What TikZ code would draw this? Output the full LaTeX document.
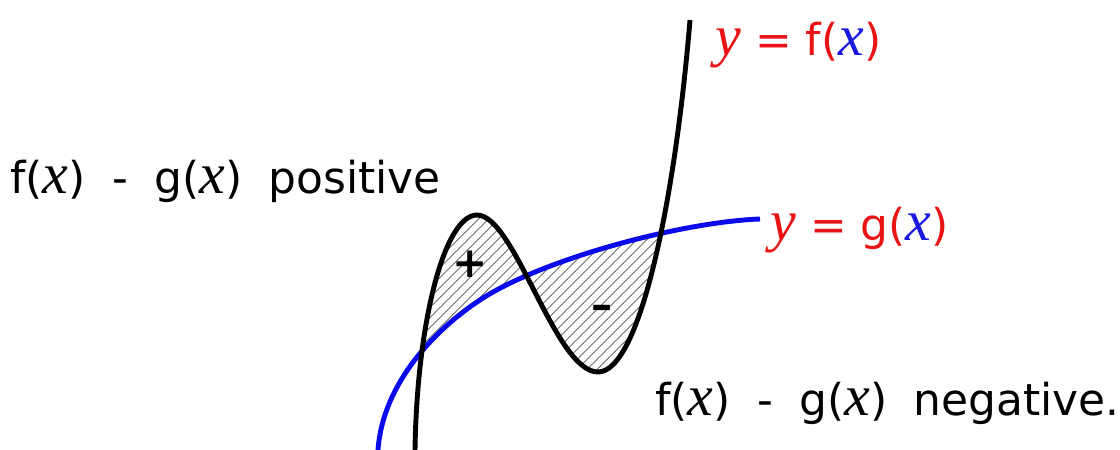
\documentclass[tikz,border=0pt]{standalone}
\usepackage{fontspec}
\setmainfont{DejaVu Sans}
\newfontfamily\varfont{Liberation Serif}
\usepackage{tikz}
\usetikzlibrary{patterns.meta}
\definecolor{myred}{RGB}{232,20,20}
\definecolor{myblue}{RGB}{25,25,225}
\definecolor{mycurve}{RGB}{10,10,235}
\definecolor{myhatch}{RGB}{90,90,90}
\newcommand{\vx}{{\varfont\itshape\fontsize{33}{33}\selectfont x}}
\newcommand{\vy}{{\varfont\itshape\fontsize{33}{33}\selectfont y}}
\newcommand{\wsp}{\hspace{0.6em}}
\tikzset{
  fline/.style={insert path={(415,450) .. controls (417,320) and (445,215) .. (477,215)
      .. controls (515,215) and (555,372) .. (598,372)
      .. controls (640,372) and (675,200) .. (690,20)}},
  gline/.style={insert path={(378,450) .. controls (383,380) and (440,326) .. (480,300)
      .. controls (540,260) and (680,222) .. (760,219)}},
  fcurve/.style={line width=2.8pt, black},
  gcurve/.style={line width=2.8pt, color=mycurve},
  hatch/.style={pattern={Lines[angle=45, distance=4pt, line width=0.5pt]}, pattern color=myhatch},
  txt/.style={font=\fontsize{25}{30}\selectfont, anchor=base west, inner sep=0pt},
  sign/.style={font=\fontsize{24}{28}\selectfont\bfseries, inner sep=0pt}
}
\begin{document}
\begin{tikzpicture}[x={(0.02cm,0)}, y={(0,-0.02cm)}]
  \useasboundingbox (0,0) rectangle (1120,450);

  % f above g
  \begin{scope}
    \clip (400,0) rectangle (523,460);
    \clip[fline] -- (700,460) -- (400,460) -- cycle;
    \clip[gline] -- (760,0) -- (378,0) -- cycle;
    \fill[hatch] (400,0) rectangle (523,460);
  \end{scope}
  % f below g
  \begin{scope}
    \clip (523,0) rectangle (680,460);
    \clip[fline] -- (700,0) -- (400,0) -- cycle;
    \clip[gline] -- (760,460) -- (378,460) -- cycle;
    \fill[hatch] (523,0) rectangle (680,460);
  \end{scope}

  \draw[gcurve, gline];
  \draw[fcurve, fline];

  \node[sign] (plus) at (470,264) {+};
  \node[sign] (minus) at (602,312) {--};

  \node[txt] (pos) at (10,193) {f(\vx)\wsp-\wsp g(\vx)\wsp positive};
  \node[txt] (neg) at (655,415) {f(\vx)\wsp-\wsp g(\vx)\wsp negative.};
  \node[txt, color=myred] (flab) at (715,55) {\vy\ = f(\textcolor{myblue}{\vx})};
  \node[txt, color=myred] (glab) at (770,240) {\vy\ = g(\textcolor{myblue}{\vx})};
\end{tikzpicture}
\end{document}
